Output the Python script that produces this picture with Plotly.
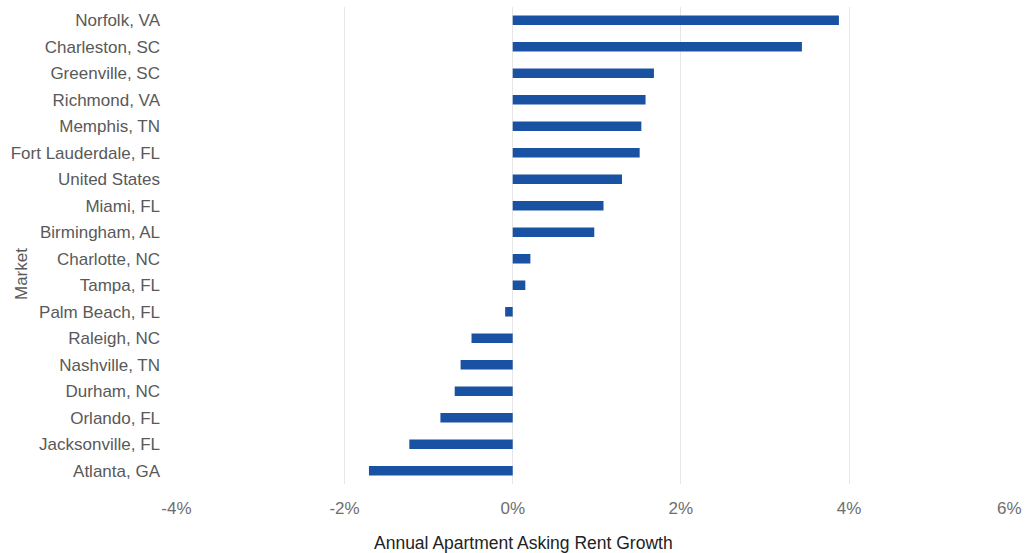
import plotly.graph_objects as go

markets = ["Norfolk, VA", "Charleston, SC", "Greenville, SC", "Richmond, VA", "Memphis, TN",
           "Fort Lauderdale, FL", "United States", "Miami, FL", "Birmingham, AL", "Charlotte, NC",
           "Tampa, FL", "Palm Beach, FL", "Raleigh, NC", "Nashville, TN", "Durham, NC",
           "Orlando, FL", "Jacksonville, FL", "Atlanta, GA"]
growth = [0.0388, 0.0344, 0.0168, 0.0158, 0.0153, 0.0151, 0.0130, 0.0108, 0.0097, 0.0021,
          0.0015, -0.0009, -0.0049, -0.0062, -0.0069, -0.0086, -0.0123, -0.0171]
x_ticks = [-0.04, -0.02, 0, 0.02, 0.04, 0.06]
x_ticklabels = ["-4%", "-2%", "0%", "2%", "4%", "6%"]

W, H = 1025, 553
ML, MR, MT, MB = 176, 7, 7, 69

fig = go.Figure(go.Bar(
    x=growth, y=markets, orientation="h",
    marker=dict(color="#1a52a3", line=dict(width=0)),
    width=0.36,
))

pw = W - ML - MR
ph = H - MT - MB

def px_to_paper(px, py):
    return (px - ML) / pw, (H - MB - py) / ph

tx, ty = px_to_paper(523, 543)
mx, my = px_to_paper(21, 274)
_, lab_y = px_to_paper(0, 508)

# last tick label drawn as annotation so it stays inside the page
shown_ticktext = x_ticklabels[:-1] + [""]

fig.update_layout(
    width=W, height=H,
    margin=dict(l=ML, r=MR, t=MT, b=MB, autoexpand=False),
    paper_bgcolor="white", plot_bgcolor="white",
    font=dict(family="Liberation Sans, Arial, sans-serif", size=17, color="#595959"),
    showlegend=False,
    xaxis=dict(range=[-0.04005, 0.0601], tickvals=x_ticks, ticktext=shown_ticktext,
               showgrid=True, gridcolor="#e6e6e6", gridwidth=1, zeroline=False,
               showline=False, ticks="", ticklabelstandoff=12, ticklabeloverflow="allow",
               automargin=False, tickfont=dict(size=17, color="#6e6e6e")),
    yaxis=dict(categoryorder="array", categoryarray=markets[::-1], range=[-0.5, 17.5],
               showgrid=False, zeroline=False, showline=False, ticks="", automargin=False,
               ticklabelstandoff=15, tickfont=dict(size=17, color="#595959")),
    annotations=[
        dict(text="Annual Apartment Asking Rent Growth", x=tx, y=ty, xref="paper", yref="paper",
             xanchor="center", yanchor="middle", showarrow=False,
             font=dict(size=17.5, color="#222222")),
        dict(text="Market", textangle=-90, x=mx, y=my, xref="paper", yref="paper",
             xanchor="center", yanchor="middle", showarrow=False,
             font=dict(size=17, color="#595959")),
        dict(text=x_ticklabels[-1], x=x_ticks[-1], xref="x", y=lab_y, yref="paper",
             xanchor="right", yanchor="middle", xshift=7, showarrow=False,
             font=dict(size=17, color="#6e6e6e")),
    ],
)

fig.write_html("out.html", config={"displayModeBar": False},
               post_script="document.body.style.margin='0px';document.body.style.overflow='hidden';")
